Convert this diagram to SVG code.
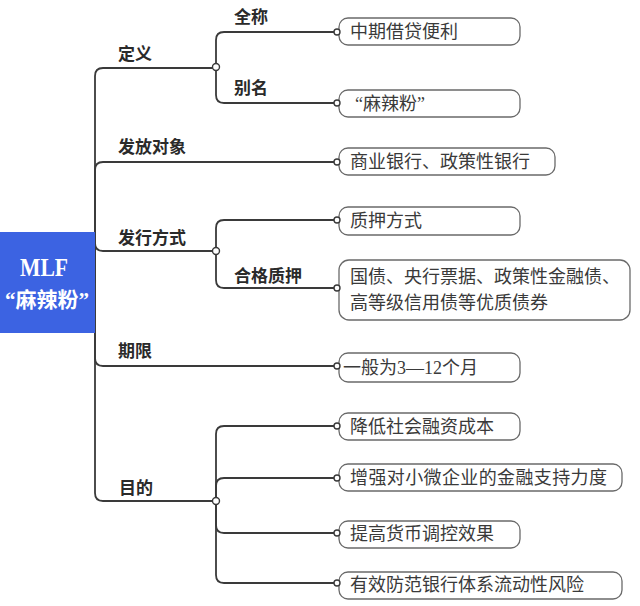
<svg xmlns="http://www.w3.org/2000/svg" width="640" height="606" viewBox="0 0 640 606">
<style>
.conn{fill:none;stroke:#3a3a3a;stroke-width:1.8;stroke-linecap:round}
.dot{fill:#fff;stroke:#3a3a3a;stroke-width:1.4}
.box{fill:#fff;stroke:#6a6a6a;stroke-width:1.3}
.lbl{font-family:"Liberation Serif","Noto Sans CJK SC",serif;font-weight:bold;font-size:17px;fill:#2a2a2a}
.txt{font-family:"Liberation Serif","Noto Sans CJK SC",serif;font-size:18px;fill:#3a3a3a}
.root{font-family:"Liberation Serif","Noto Sans CJK SC",serif;font-weight:bold;fill:#fff}
</style>
<rect width="640" height="606" fill="#fff"/>
<g id="connectors">
<path class="conn" d="M95,282 V76 Q95,68 103,68 H216"/>
<path class="conn" d="M95,282 V170 Q95,162 103,162 H336"/>
<path class="conn" d="M95,282 V243 Q95,251 103,251 H216"/>
<path class="conn" d="M95,282 V358 Q95,366 103,366 H336"/>
<path class="conn" d="M95,282 V493 Q95,501 103,501 H216"/>
<path class="conn" d="M216,67 V40 Q216,32 224,32 H336"/>
<path class="conn" d="M216,67 V95 Q216,103 224,103 H336"/>
<path class="conn" d="M216,251 V228 Q216,220 224,220 H336"/>
<path class="conn" d="M216,251 V280 Q216,288 224,288 H336"/>
<path class="conn" d="M216,501 V434 Q216,426 224,426 H336"/>
<path class="conn" d="M216,501 V486 Q216,478 224,478 H336"/>
<path class="conn" d="M216,501 V525 Q216,533 224,533 H336"/>
<path class="conn" d="M216,501 V575 Q216,583 224,583 H336"/>
<circle class="dot" cx="216" cy="67" r="3.5"/>
<circle class="dot" cx="216" cy="251" r="3.5"/>
<circle class="dot" cx="216" cy="501" r="3.5"/>
</g>
<g id="root">
<rect x="0" y="232" width="95" height="101" fill="#3c63e2"/>
<text class="root" x="44" y="276" font-size="25" text-anchor="middle" textLength="48" lengthAdjust="spacingAndGlyphs">MLF</text>
<text class="root" x="47" y="307" font-size="21" text-anchor="middle">“麻辣粉”</text>
</g>
<g id="labels">
<text class="lbl" x="118" y="60">定义</text>
<text class="lbl" x="234" y="23">全称</text>
<text class="lbl" x="234" y="94">别名</text>
<text class="lbl" x="118" y="153">发放对象</text>
<text class="lbl" x="118" y="244">发行方式</text>
<text class="lbl" x="234" y="282">合格质押</text>
<text class="lbl" x="118" y="357">期限</text>
<text class="lbl" x="119" y="494">目的</text>
</g>
<g id="n-full">
<rect class="box" x="339" y="18" width="181" height="27" rx="9"/>
<circle class="dot" cx="337" cy="32" r="3"/>
<text class="txt" x="350" y="38">中期借贷便利</text>
</g>
<g id="n-alias">
<rect class="box" x="339" y="90" width="181" height="27" rx="9"/>
<circle class="dot" cx="337" cy="103" r="3"/>
<text class="txt" x="355" y="110">“麻辣粉”</text>
</g>
<g id="n-target">
<rect class="box" x="339" y="148" width="216" height="27" rx="9"/>
<circle class="dot" cx="337" cy="162" r="3"/>
<text class="txt" x="350" y="168">商业银行、政策性银行</text>
</g>
<g id="n-pledge">
<rect class="box" x="339" y="207" width="181" height="28" rx="9"/>
<circle class="dot" cx="337" cy="220" r="3"/>
<text class="txt" x="350" y="227">质押方式</text>
</g>
<g id="n-collateral">
<rect class="box" x="339" y="260" width="291" height="60" rx="10"/>
<circle class="dot" cx="337" cy="288" r="3"/>
<text class="txt" x="350" y="283">国债、央行票据、政策性金融债、</text>
<text class="txt" x="350" y="309">高等级信用债等优质债券</text>
</g>
<g id="n-term">
<rect class="box" x="339" y="353" width="181" height="29" rx="9"/>
<circle class="dot" cx="337" cy="366" r="3"/>
<text class="txt" x="343" y="374">一般为3—12个月</text>
</g>
<g id="n-p1">
<rect class="box" x="339" y="413" width="181" height="27" rx="9"/>
<circle class="dot" cx="337" cy="426" r="3"/>
<text class="txt" x="350" y="433">降低社会融资成本</text>
</g>
<g id="n-p2">
<rect class="box" x="339" y="464" width="283" height="27" rx="9"/>
<circle class="dot" cx="337" cy="478" r="3"/>
<text class="txt" x="350" y="484" textLength="257">增强对小微企业的金融支持力度</text>
</g>
<g id="n-p3">
<rect class="box" x="339" y="521" width="181" height="27" rx="9"/>
<circle class="dot" cx="337" cy="533" r="3"/>
<text class="txt" x="350" y="540">提高货币调控效果</text>
</g>
<g id="n-p4">
<rect class="box" x="339" y="572" width="283" height="27" rx="9"/>
<circle class="dot" cx="337" cy="583" r="3"/>
<text class="txt" x="350" y="591">有效防范银行体系流动性风险</text>
</g>
</svg>
